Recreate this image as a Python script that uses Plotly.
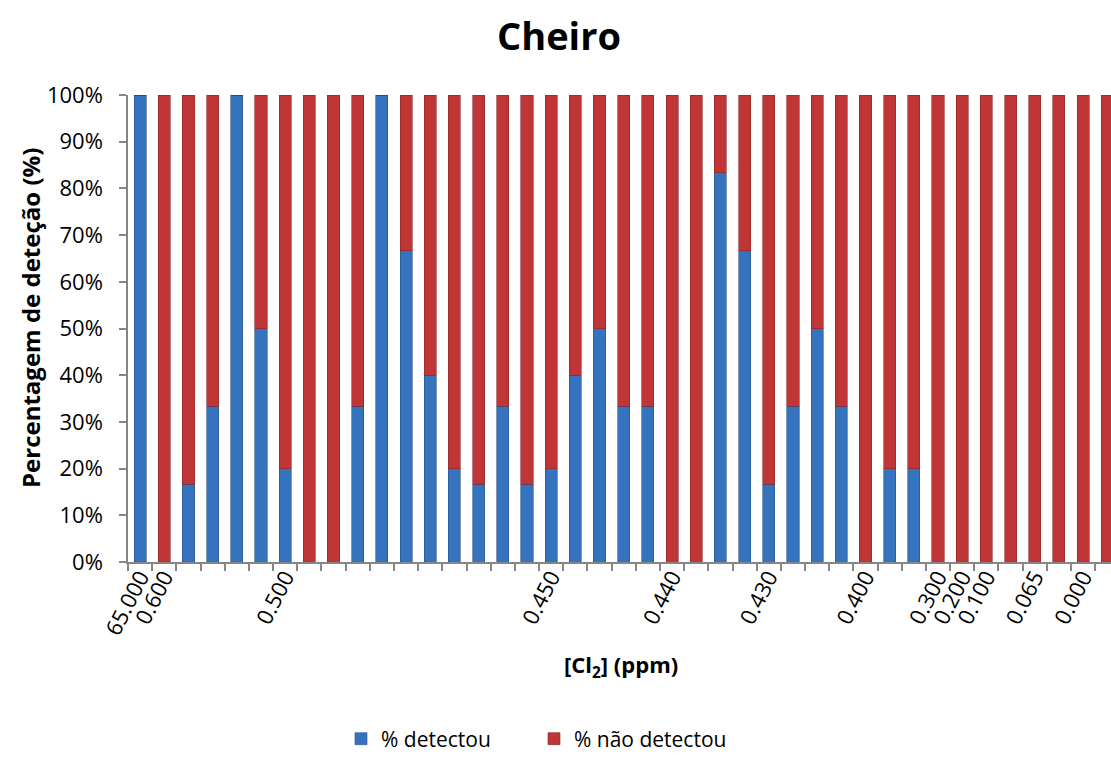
import plotly.graph_objects as go

# Category positions (41 visible categories) and their labels (most are blank)
n_cat = 41
label_idx = [0, 1, 6, 17, 22, 26, 30, 33, 34, 35, 37, 39]
label_txt = ["65.000", "0.600", "0.500", "0.450", "0.440", "0.430", "0.400",
             "0.300", "0.200", "0.100", "0.065", "0.000"]

# % detectou (fraction) per category
detectou = [1.0, 0.0, 1/6, 1/3, 1.0, 0.5, 0.2, 0.0, 0.0, 1/3,
            1.0, 2/3, 0.4, 0.2, 1/6, 1/3, 1/6, 0.2, 0.4, 0.5,
            1/3, 1/3, 0.0, 0.0, 5/6, 2/3, 1/6, 1/3, 0.5, 1/3,
            0.0, 0.2, 0.2, 0.0, 0.0, 0.0, 0.0, 0.0, 0.0, 0.0, 0.0]
nao_detectou = [1 - v for v in detectou]

x = list(range(n_cat))
FONT = "Open Sans"

fig = go.Figure()
fig.add_trace(go.Bar(x=x, y=detectou, name="% detectou", width=0.5,
                     marker=dict(color="#3573BE", line=dict(color="#24528C", width=0.6))))
fig.add_trace(go.Bar(x=x, y=nao_detectou, name="% não detectou", width=0.5,
                     marker=dict(color="#C03636", line=dict(color="#8C2424", width=0.6))))

W, H = 1111, 770
L, R, T, B = 128, 0, 95, 208
pw = W - L - R
ph = H - T - B
cat_w = 24.18
x_end = -0.5 + pw / cat_w

fig.update_layout(
    width=W, height=H,
    margin=dict(l=L, r=R, t=T, b=B, pad=0),
    paper_bgcolor="white", plot_bgcolor="white",
    barmode="stack", bargap=0.5,
    font=dict(family=FONT, color="black"),
    title=dict(text="<b>Cheiro</b>", x=559 / W, xanchor="center", xref="container",
               y=1 - 37 / H, yanchor="middle", yref="container",
               font=dict(size=38, family=FONT, color="black")),
    showlegend=True,
    legend=dict(orientation="h", xref="container", yref="container",
                x=534 / W, xanchor="center", y=1 - 739 / H, yanchor="middle",
                font=dict(size=21, family=FONT), itemwidth=30,
                entrywidth=148, entrywidthmode="pixels",
                traceorder="normal"),
)

fig.update_xaxes(
    range=[-0.5, x_end], tickmode="array", tickvals=[x[i] for i in label_idx],
    ticktext=label_txt, tickangle=-63, ticks="",
    tickfont=dict(size=22, family=FONT),
    showline=True, linecolor="#868686", linewidth=1.5,
    showgrid=False, zeroline=False, ticklabelstandoff=-8,
    minor=dict(tickmode="array", tickvals=[i - 0.5 for i in range(n_cat + 1)],
               ticks="outside", ticklen=7, tickcolor="#868686", tickwidth=1.5,
               showgrid=False),
)
fig.update_yaxes(
    range=[0, 1], tickmode="linear", tick0=0, dtick=0.1, tickformat=".0%",
    ticks="outside", ticklen=7, tickcolor="#868686", tickwidth=1.5,
    tickfont=dict(size=22, family=FONT),
    showline=True, linecolor="#868686", linewidth=1.5,
    showgrid=False, zeroline=False, ticklabelstandoff=12,
)

fig.add_annotation(text="<b>Percentagem de deteção (%)</b>", textangle=-90,
                   xref="paper", yref="paper", x=(30 - L) / pw, y=(H - B - 318) / ph,
                   xanchor="center", yanchor="middle", showarrow=False,
                   font=dict(size=24, family=FONT, color="black"))
fig.add_annotation(text="<b>[Cl<sub>2</sub>] (ppm)</b>",
                   xref="paper", yref="paper", x=(621 - L) / pw, y=(H - B - 666) / ph,
                   xanchor="center", yanchor="middle", showarrow=False,
                   font=dict(size=22, family=FONT, color="black"))

fig.write_html("out.html", config={"displayModeBar": False},
               post_script="document.body.style.margin='0';"
                           "document.body.style.overflow='hidden';")
